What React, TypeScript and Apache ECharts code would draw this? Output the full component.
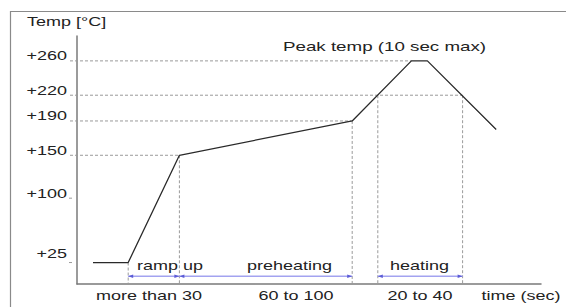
import React, { useEffect, useRef } from "react";
import * as echarts from "echarts";

// Reflow profile (time axis in seconds, temperature in °C)
const timeSec = [10, 32, 64, 172, 209, 219, 262];
const tempC = [25, 25, 150, 190, 260, 260, 180];

// Y tick labels
const yTicks = [25, 100, 150, 190, 220, 260];
const yTickLabels = ["+25", "+100", "+150", "+190", "+220", "+260"];

// Horizontal guide lines (temperature -> time where the guide ends on the curve)
const hGuideTemps = [150, 190, 220, 260];
const hGuideEnds = [64, 172, 241, 209];

// Vertical guide lines (time, temperature where the guide starts)
const vGuideTimes = [32, 64, 172, 188, 241];
const vGuideTemps = [25, 150, 190, 220, 220];

// Phases
const phaseLabels = ["ramp up", "preheating", "heating"];
const phaseStart = [32, 64, 188];
const phaseEnd = [64, 172, 241];
const durationLabels = ["more than 30", "60 to 100", "20 to 40"];

const yAxisTitle = "Temp [°C]";
const xAxisTitle = "time (sec)";
const peakNote = "Peak temp (10 sec max)";

export default function App() {
  const ref = useRef<HTMLDivElement>(null);

  useEffect(() => {
    if (!ref.current) return;
    const chart = echarts.init(ref.current, null, { renderer: "svg" });
    const axisLine = { lineStyle: { color: "#7a7a7a", width: 1.5 } };
    chart.setOption({
      animation: false,
      grid: { left: 77, right: 25, top: 36, bottom: 23 },
      xAxis: {
        type: "value",
        min: 0,
        max: 290,
        axisLine,
        axisTick: { show: false },
        axisLabel: { show: false },
        splitLine: { show: false },
      },
      yAxis: {
        type: "value",
        min: 0,
        max: 289,
        axisLine: { show: true, ...axisLine },
        axisTick: { show: false },
        axisLabel: { show: false },
        splitLine: { show: false },
      },
      series: [
        {
          type: "line",
          data: timeSec.map((t, i) => [t, tempC[i]]),
          symbol: "none",
          lineStyle: { color: "#2a2a2a", width: 1.3 },
          z: 5,
        },
      ],
    });

    const px = (t: number, v: number) =>
      chart.convertToPixel({ gridIndex: 0 }, [t, v]) as number[];

    const font = "Liberation Sans, Arial, sans-serif";
    const txt = (
      text: string,
      x: number,
      y: number,
      align: string,
      size = 12
    ) => ({
      type: "text",
      x,
      y,
      scaleX: 1.5,
      z: 10,
      style: {
        text,
        fontFamily: font,
        fontSize: size,
        fill: "#222",
        textAlign: align,
        align,
        textVerticalAlign: "middle",
        verticalAlign: "middle",
      },
    });
    const dash = (x1: number, y1: number, x2: number, y2: number) => ({
      type: "line",
      z: 1,
      shape: { x1, y1, x2, y2 },
      style: { stroke: "#9a9a9a", lineWidth: 1, lineDash: [3, 2] },
    });

    const g: any[] = [];
    // outer frame
    g.push({
      type: "rect",
      z: 0,
      shape: { x: 10.5, y: 11.5, width: 700, height: 400 },
      style: { fill: "none", stroke: "#8a8a8a", lineWidth: 1.2 },
    });

    const origin = px(0, 0);
    // horizontal guides
    hGuideTemps.forEach((v, i) => {
      const a = px(0, v);
      const b = px(hGuideEnds[i], v);
      g.push(dash(origin[0] - 7, a[1], b[0], b[1]));
    });
    // stubs for ticks without guide
    yTicks.forEach((v) => {
      if (hGuideTemps.indexOf(v) < 0) {
        const a = px(0, v);
        g.push(dash(origin[0] - 8, a[1], origin[0] - 4, a[1]));
      }
    });
    // vertical guides
    vGuideTimes.forEach((t, i) => {
      const a = px(t, vGuideTemps[i]);
      g.push(dash(a[0], a[1], a[0], origin[1]));
    });
    // y tick labels
    yTicks.forEach((v, i) => {
      const a = px(0, v);
      const off = v === 25 ? 9 : 5;
      g.push(txt(yTickLabels[i], origin[0] - 10, a[1] - off, "right"));
    });
    // phase arrows
    const arrowY = px(0, 9)[1];
    phaseStart.forEach((t0, i) => {
      const x0 = px(t0, 0)[0];
      const x1 = px(phaseEnd[i], 0)[0];
      g.push({
        type: "line",
        z: 3,
        shape: { x1: x0, y1: arrowY, x2: x1, y2: arrowY },
        style: { stroke: "#a3a3f0", lineWidth: 1.5 },
      });
      g.push({
        type: "polygon",
        z: 4,
        shape: { points: [[x0, arrowY], [x0 + 5, arrowY - 1.8], [x0 + 5, arrowY + 1.8]] },
        style: { fill: "#5c5cd6" },
      });
      g.push({
        type: "polygon",
        z: 4,
        shape: { points: [[x1, arrowY], [x1 - 5, arrowY - 1.8], [x1 - 5, arrowY + 1.8]] },
        style: { fill: "#5c5cd6" },
      });
    });
    // phase labels
    const phaseX = [137, 247, 390];
    phaseLabels.forEach((s, i) => g.push(txt(s, phaseX[i], 266, "left")));
    // duration labels
    const durX = [149, 296, 420];
    durationLabels.forEach((s, i) => g.push(txt(s, durX[i], 296, "center")));
    g.push(txt(xAxisTitle, 521, 296, "center"));
    g.push(txt(yAxisTitle, 27, 22, "left"));
    g.push(txt(peakNote, 283, 47, "left", 12.5));

    chart.setOption({ graphic: g });

    return () => chart.dispose();
  }, []);

  return (
    <div
      ref={ref}
      style={{ position: "fixed", left: 0, top: 0, width: 566, height: 307, background: "#fff" }}
    />
  );
}
